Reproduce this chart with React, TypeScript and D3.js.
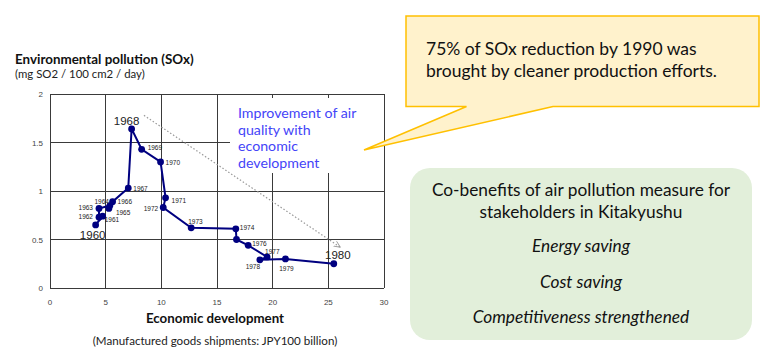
import * as d3 from 'd3';

// SOx vs manufactured goods shipments, Kitakyushu 1960-1980
const years = [1960, 1961, 1962, 1963, 1964, 1965, 1966, 1967, 1968, 1969, 1970, 1971, 1972, 1973, 1974, 1975, 1976, 1977, 1978, 1979, 1980];
const shipments = [4.1, 4.73, 4.4, 4.4, 5.38, 5.29, 5.62, 7.03, 7.33, 8.23, 9.93, 10.38, 10.17, 12.68, 16.69, 16.75, 17.8, 19.5, 18.85, 21.15, 25.49];
const soxLevels = [0.65, 0.74, 0.73, 0.82, 0.85, 0.82, 0.89, 1.03, 1.64, 1.43, 1.3, 0.93, 0.83, 0.62, 0.61, 0.5, 0.44, 0.32, 0.29, 0.3, 0.25];
const bigYears = [1960, 1968, 1980];
const hiddenYears = [1975];

const xTicks = [0, 5, 10, 15, 20, 25, 30];
const yTicks = [0, 0.5, 1, 1.5, 2];
const trendFrom = [8.44, 1.78];
const trendTo = [26.08, 0.42];

const noteLines = ['Improvement of air', 'quality with', 'economic', 'development'];
const calloutLines = ['75% of SOx reduction by 1990 was', 'brought by cleaner production efforts.'];
const benefitTitle = ['Co-benefits of air pollution measure for', 'stakeholders in Kitakyushu'];
const benefitItems = ['Energy saving', 'Cost saving', 'Competitiveness strengthened'];

// label placement per year: [dx, dy, anchor]
const labelPos: Record<number, [number, number, string]> = {
  1960: [-3, 14, 'middle'],
  1961: [2, 6, 'start'],
  1962: [-6, 2, 'end'],
  1963: [-6, 1.5, 'end'],
  1964: [-1, -1.5, 'end'],
  1965: [7, 6.5, 'start'],
  1966: [5, 2.5, 'start'],
  1967: [5, 3, 'start'],
  1968: [-5, -4, 'middle'],
  1969: [6, 0.5, 'start'],
  1970: [5, 3.5, 'start'],
  1971: [6, 5, 'start'],
  1972: [-5, 4, 'end'],
  1973: [-3, -4, 'start'],
  1974: [4, 1, 'start'],
  1976: [4, 1, 'start'],
  1977: [-2, -3, 'start'],
  1978: [-7, 9, 'middle'],
  1979: [1, 12.5, 'middle'],
  1980: [4, -5, 'middle'],
};

const W = 768;
const H = 354;

export default function App() {
  const x = d3.scaleLinear().domain([0, 30]).range([50, 384]);
  const y = d3.scaleLinear().domain([0, 2]).range([288, 94]);
  const points = years.map((yr, i) => ({ year: yr, x: shipments[i], y: soxLevels[i] }));
  const line = d3.line<{ x: number; y: number }>().x((d) => x(d.x)).y((d) => y(d.y));

  const gridColor = '#3a3a3a';
  const sans = "'Liberation Sans', Arial, sans-serif";
  const body = "Lato, 'Open Sans', sans-serif";

  return (
    <svg width={W} height={H} style={{ position: 'absolute', left: 0, top: 0, background: '#fff' }}>
      <defs>
        <marker id="arr" viewBox="0 0 10 10" refX="9" refY="5" markerWidth="6" markerHeight="6" orient="auto">
          <path d="M0,1 L9,5 L0,9" fill="none" stroke="#999" strokeWidth="1.2" />
        </marker>
      </defs>

      {/* axis titles */}
      <text x={15} y={64} fontFamily={body} fontWeight={700} fontSize={13.4} fill="#111">Environmental pollution (SOx)</text>
      <text x={15} y={78} fontFamily={body} fontSize={11.4} fill="#222">(mg SO2 / 100 cm2 / day)</text>
      <text x={215} y={323} textAnchor="middle" fontFamily={body} fontWeight={700} fontSize={13.3} fill="#111">Economic development</text>
      <text x={215} y={345} textAnchor="middle" fontFamily={body} fontSize={11.6} fill="#222">(Manufactured goods shipments: JPY100 billion)</text>

      {/* grid */}
      <g stroke={gridColor} strokeWidth={1} shapeRendering="crispEdges">
        {xTicks.map((t) => (
          <line key={'gx' + t} x1={x(t)} x2={x(t)} y1={y(2)} y2={y(0)} />
        ))}
        {yTicks.map((t) => (
          <line key={'gy' + t} x1={x(0)} x2={x(30)} y1={y(t)} y2={y(t)} />
        ))}
      </g>
      <g fontFamily={sans} fontSize={8} fill="#444">
        {xTicks.map((t) => (
          <text key={'tx' + t} x={x(t)} y={305} textAnchor="middle">{t}</text>
        ))}
        {yTicks.map((t) => (
          <text key={'ty' + t} x={43} y={y(t) + 3} textAnchor="end">{t}</text>
        ))}
      </g>

      {/* trend arrow */}
      <line
        x1={x(trendFrom[0])} y1={y(trendFrom[1])} x2={x(trendTo[0])} y2={y(trendTo[1])}
        stroke="#999" strokeWidth={1.2} strokeDasharray="1.5 2" markerEnd="url(#arr)"
      />

      {/* note over the plot */}
      <rect x={230} y={98} width={152} height={75} fill="#fff" />
      <g fontFamily={body} fontSize={14.2} fill="#4444f8">
        {noteLines.map((t, i) => (
          <text key={t} x={238} y={118 + i * 16.6}>{t}</text>
        ))}
      </g>

      {/* series */}
      <path d={line(points) || ''} fill="none" stroke="#000080" strokeWidth={2} />
      {points.map((p) => (
        <circle key={p.year} cx={x(p.x)} cy={y(p.y)} r={3.4} fill="#000080" />
      ))}
      {points
        .filter((p) => !hiddenYears.includes(p.year) && labelPos[p.year])
        .map((p) => {
          const [dx, dy, anchor] = labelPos[p.year];
          const big = bigYears.includes(p.year);
          return (
            <text
              key={'l' + p.year}
              x={x(p.x) + dx}
              y={y(p.y) + dy}
              textAnchor={anchor}
              fontFamily={big ? sans : "'Liberation Sans Narrow', 'Liberation Sans', sans-serif"}
              fontSize={big ? 11.5 : 6.5}
              fill="#222"
            >
              {p.year}
            </text>
          );
        })}

      {/* callout */}
      <path
        d="M406,16 H759 V106.5 H553 L364,150 L466.5,106.5 H406 Z"
        fill="#fff2cc" stroke="#ffc000" strokeWidth={1.5} strokeLinejoin="miter"
      />
      <g fontFamily={body} fontSize={17.5} fill="#111">
        {calloutLines.map((t, i) => (
          <text key={t} x={426} y={55 + i * 22.3}>{t}</text>
        ))}
      </g>

      {/* co-benefits box */}
      <rect x={410} y={168} width={342} height={172} rx={20} fill="#e2efda" />
      <g fontFamily={body} fontSize={17.3} fill="#111" textAnchor="middle">
        {benefitTitle.map((t, i) => (
          <text key={t} x={581} y={196 + i * 22.3}>{t}</text>
        ))}
        {benefitItems.map((t, i) => (
          <text key={t} x={581} y={252 + i * 35.7} fontStyle="italic">{t}</text>
        ))}
      </g>
    </svg>
  );
}
